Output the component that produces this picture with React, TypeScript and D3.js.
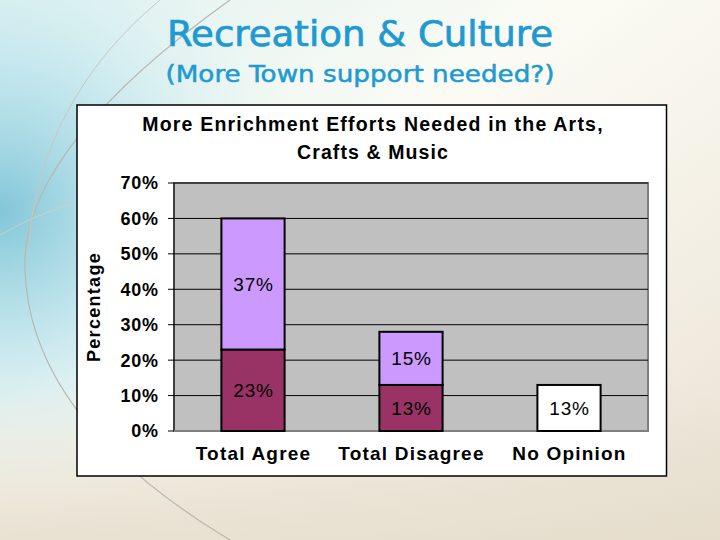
import React from "react";
import * as d3 from "d3";

const categories = ["Total Agree", "Total Disagree", "No Opinion"];
const lowerValues = [23, 13, 0];
const upperValues = [37, 15, 0];
const noOpinionValues = [0, 0, 13];
const yTicks = [0, 10, 20, 30, 40, 50, 60, 70];

const W = 720, H = 540;
const plot = { left: 174, right: 648, top: 183, bottom: 431 };

export default function App() {
  const x = d3.scaleBand<string>().domain(categories).range([plot.left, plot.right]).paddingInner(0.6).paddingOuter(0.3);
  const y = d3.scaleLinear().domain([0, 70]).range([plot.bottom, plot.top]);
  const bw = x.bandwidth();
  const fmt = (v: number) => `${v}%`;
  const arial = "'Liberation Sans', Arial, sans-serif";
  const comic = "'Comic Sans MS', 'DejaVu Sans', sans-serif";

  const segs: { cat: string; y0: number; y1: number; fill: string; v: number }[] = [];
  categories.forEach((c, i) => {
    let base = 0;
    [[lowerValues[i], "#993366"], [upperValues[i], "#CC99FF"], [noOpinionValues[i], "#FFFFFF"]].forEach(([v, f]) => {
      const val = v as number;
      if (val > 0) {
        segs.push({ cat: c, y0: base, y1: base + val, fill: f as string, v: val });
        base += val;
      }
    });
  });

  return (
    <svg width={W} height={H} style={{ position: "absolute", left: 0, top: 0 }}>
      <defs>
        <linearGradient id="bg" x1="0" y1="0" x2="1" y2="1">
          <stop offset="0" stopColor="#dff2f0" />
          <stop offset="0.4" stopColor="#fbfbf4" />
          <stop offset="0.75" stopColor="#f2ede2" />
          <stop offset="1" stopColor="#e9e1d3" />
        </linearGradient>
        <radialGradient id="blue" cx="0" cy="0.3" r="0.45" gradientTransform="scale(1,1.3)">
          <stop offset="0" stopColor="#7cc3d6" stopOpacity="0.95" />
          <stop offset="0.5" stopColor="#b6e2ee" stopOpacity="0.6" />
          <stop offset="1" stopColor="#e8f6f4" stopOpacity="0" />
        </radialGradient>
        <linearGradient id="bottomBeige" x1="0" y1="0" x2="0" y2="1">
          <stop offset="0" stopColor="#e5dccb" stopOpacity="0" />
          <stop offset="1" stopColor="#e5dccb" stopOpacity="0.8" />
        </linearGradient>
      </defs>
      <rect x={0} y={0} width={W} height={H} fill="url(#bg)" />
      <rect x={0} y={0} width={W} height={H} fill="url(#blue)" />
      <rect x={0} y={380} width={W} height={160} fill="url(#bottomBeige)" />
      <path d="M 230 0 Q 20 150 25 270 Q 30 420 230 540" fill="none" stroke="#b9b8b0" strokeWidth={1.2} />
      <path d="M 160 0 Q 40 100 28 250" fill="none" stroke="#c8c8c0" strokeWidth={1} />
      <path d="M 0 235 Q 60 200 150 185" fill="none" stroke="#c8d0cc" strokeWidth={1} />

      <text x={360} y={46} textAnchor="middle" fill="#1f9ad1" stroke="#1f9ad1" strokeWidth={0.7} fontFamily={comic} fontSize={35} textLength={386} lengthAdjust="spacingAndGlyphs">Recreation &amp; Culture</text>
      <text x={360} y={82} textAnchor="middle" fill="#1f9ad1" stroke="#1f9ad1" strokeWidth={0.5} fontFamily={comic} fontSize={23} textLength={389} lengthAdjust="spacingAndGlyphs">(More Town support needed?)</text>

      <rect x={77} y={105} width={589.5} height={371} fill="#ffffff" stroke="#000" strokeWidth={1.5} />
      <text x={373} y={131} textAnchor="middle" fontFamily={arial} fontWeight="bold" fontSize={19.5} letterSpacing={1.2}>More Enrichment Efforts Needed in the Arts,</text>
      <text x={373} y={159} textAnchor="middle" fontFamily={arial} fontWeight="bold" fontSize={19.5} letterSpacing={1.1}>Crafts &amp; Music</text>

      <rect x={plot.left} y={plot.top} width={plot.right - plot.left} height={plot.bottom - plot.top} fill="#C0C0C0" stroke="#808080" strokeWidth={2} />
      {yTicks.map((t) => (
        <g key={t}>
          <line x1={plot.left - 6} x2={t === 0 ? plot.left : plot.right} y1={y(t)} y2={y(t)} stroke="#000" strokeWidth={1} />
          <text x={158.7} y={y(t)} dy="0.36em" textAnchor="end" fontFamily={arial} fontWeight="bold" fontSize={18} letterSpacing={0.7}>{fmt(t)}</text>
        </g>
      ))}
      <line x1={plot.left} x2={plot.left} y1={plot.top} y2={plot.bottom} stroke="#000" strokeWidth={1} />
      <line x1={plot.left} x2={plot.right} y1={plot.bottom} y2={plot.bottom} stroke="#808080" strokeWidth={2} />
      <text transform={`translate(94,${(plot.top + plot.bottom) / 2}) rotate(-90)`} textAnchor="middle" dy="0.35em" fontFamily={arial} fontWeight="bold" fontSize={18} letterSpacing={1.3}>Percentage</text>

      {segs.map((s, i) => (
        <g key={i}>
          <rect x={x(s.cat)!} y={y(s.y1)} width={bw} height={y(s.y0) - y(s.y1)} fill={s.fill} stroke="#000" strokeWidth={2} />
          <text x={x(s.cat)! + bw / 2 + 0.5} y={(y(s.y0) + y(s.y1)) / 2} dy="0.36em" textAnchor="middle" fontFamily={arial} fontSize={19} letterSpacing={0.8} fill="#000">{fmt(s.v)}</text>
        </g>
      ))}

      {categories.map((c) => (
        <text key={c} x={x(c)! + bw / 2 + 0.5} y={453} dy="0.36em" textAnchor="middle" fontFamily={arial} fontWeight="bold" fontSize={19} letterSpacing={1.2}>{c}</text>
      ))}
    </svg>
  );
}
